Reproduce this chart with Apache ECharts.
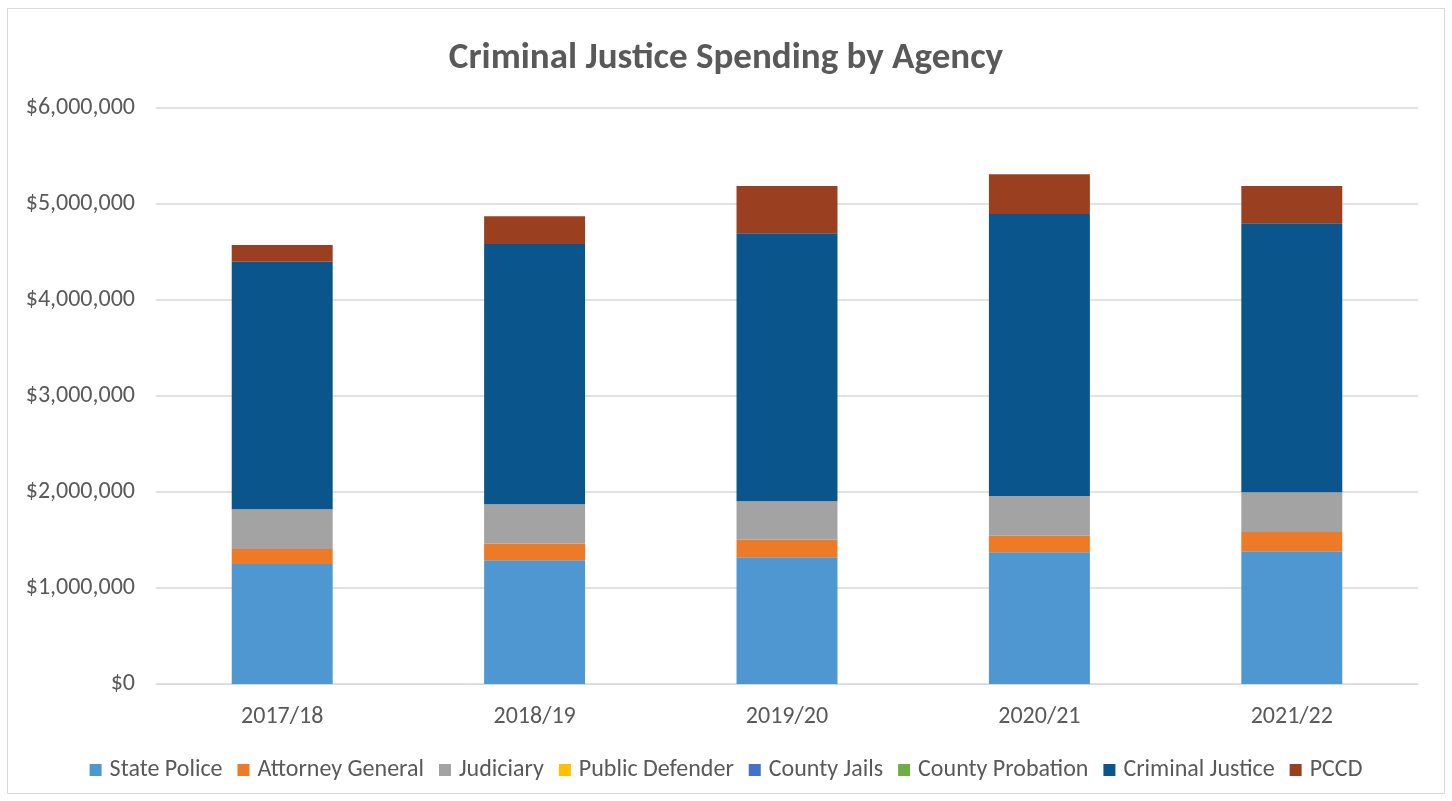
<!DOCTYPE html>
<html><head><meta charset="utf-8">
<script src="https://cdn.jsdelivr.net/npm/echarts@6/dist/echarts.min.js"></script>
<style>
html,body{margin:0;padding:0;background:#fff;}
#frame{position:absolute;left:7px;top:8px;width:1438px;height:786px;border:1px solid #d9d9d9;box-sizing:border-box;}
#chart{position:absolute;left:0;top:0;width:1452px;height:801px;}
</style></head>
<body><div id="frame"></div><div id="chart"></div>
<script>
const categories = ['2017/18','2018/19','2019/20','2020/21','2021/22'];
const statePolice      = [1250000,1290000,1320000,1372000,1382000];
const attorneyGeneral  = [156000,174000,183000,173000,201000];
const judiciary        = [414000,409000,400000,413000,414000];
const publicDefender   = [0,0,0,0,0];
const countyJails      = [0,0,0,0,0];
const countyProbation  = [0,0,0,0,0];
const criminalJustice  = [2579000,2711000,2792000,2938000,2802000];
const pccd             = [174000,289000,492000,413000,389000];
const yTicks = [0,1000000,2000000,3000000,4000000,5000000,6000000];

const seriesDefs = [
  ['State Police', statePolice, '#4F97D1'],
  ['Attorney General', attorneyGeneral, '#EC7A26'],
  ['Judiciary', judiciary, '#A3A3A3'],
  ['Public Defender', publicDefender, '#FFC000'],
  ['County Jails', countyJails, '#4472C4'],
  ['County Probation', countyProbation, '#70AD47'],
  ['Criminal Justice', criminalJustice, '#0A568C'],
  ['PCCD', pccd, '#9A3F20']
];
const font = 'Calibri, Carlito, "Open Sans", "Noto Sans", sans-serif';
const chart = echarts.init(document.getElementById('chart'), null, {renderer:'canvas'});
chart.setOption({
  animation:false,
  title:{text:'Criminal Justice Spending by Agency', left:'center', top:35,
    textStyle:{fontFamily:font, fontSize:37, fontWeight:'bold', color:'#595959'}},
  grid:{left:156, right:34, top:108, bottom:117, containLabel:false},
  legend:{bottom:14, left:'center', itemWidth:12, itemHeight:12, itemGap:15, icon:'rect',
    textStyle:{fontFamily:font, fontSize:24, color:'#595959', padding:[0,0,0,3]},
    data: seriesDefs.map(s=>s[0])},
  xAxis:{type:'category', data:categories,
    axisLine:{lineStyle:{color:'#d9d9d9', width:1}}, axisTick:{show:false},
    axisLabel:{fontFamily:font, fontSize:24, color:'#595959', margin:21}},
  yAxis:{type:'value', min:0, max:yTicks[yTicks.length-1], interval:1000000,
    axisLine:{show:false}, axisTick:{show:false},
    splitLine:{lineStyle:{color:'#d9d9d9', width:1.5}},
    axisLabel:{fontFamily:font, fontSize:24, color:'#595959', margin:21,
      formatter: v => '$' + v.toLocaleString('en-US')}},
  series: seriesDefs.map(([name,data,color]) => ({
    name, type:'bar', stack:'total', data, barWidth:'40%',
    itemStyle:{color}, emphasis:{disabled:true}
  }))
});
</script></body></html>
